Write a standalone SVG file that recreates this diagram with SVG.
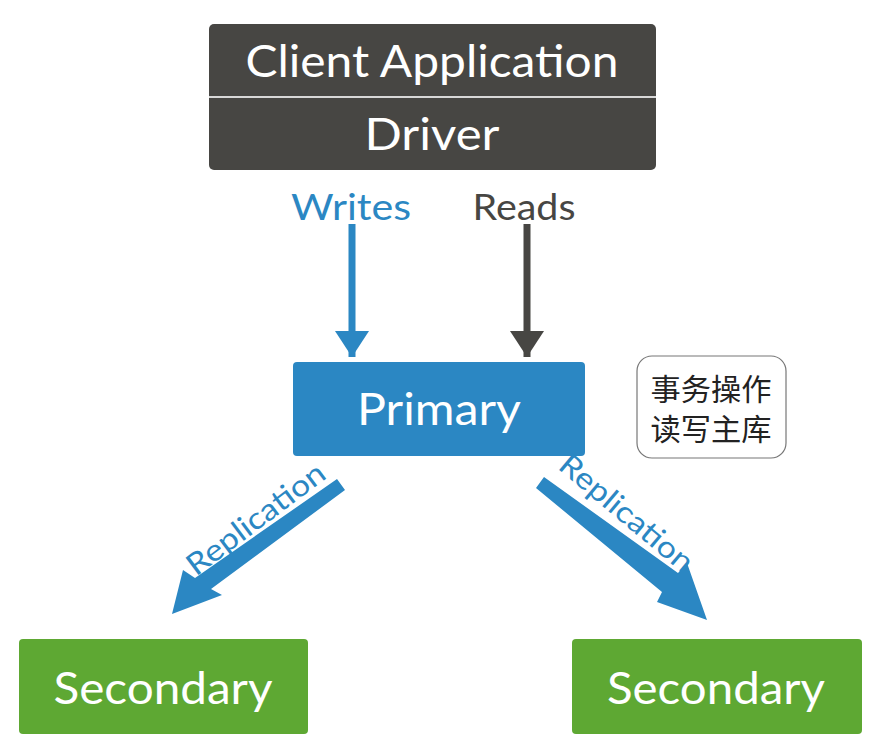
<svg xmlns="http://www.w3.org/2000/svg" width="889" height="750" viewBox="0 0 889 750">
<defs>
<style>
.lbl{font-family:Lato,"Open Sans","Liberation Sans",sans-serif;fill:#ffffff;text-anchor:middle}
.blue{fill:#2b87c3}
.green{fill:#5ea833}
.rep{font-family:Lato,"Open Sans","Liberation Sans",sans-serif;font-size:30px;fill:#2b87c3;text-anchor:middle}
.cjk{font-family:"Noto Sans CJK SC","Noto Sans",sans-serif;font-size:30px;fill:#222;text-anchor:middle}
</style>
<marker id="hb" viewBox="0 0 26 34" refX="26" refY="17" markerWidth="26" markerHeight="34" markerUnits="userSpaceOnUse" orient="auto"><path d="M0,0 L26,17 L0,34 Z" fill="#2b87c3"/></marker>
<marker id="hd" viewBox="0 0 26 34" refX="26" refY="17" markerWidth="26" markerHeight="34" markerUnits="userSpaceOnUse" orient="auto"><path d="M0,0 L26,17 L0,34 Z" fill="#474643"/></marker>
</defs>
<rect width="889" height="750" fill="#ffffff"/>
<g id="client">
<rect x="209" y="24" width="447" height="146" rx="5" fill="#474643"/>
<line x1="209" y1="97" x2="656" y2="97" stroke="#d8d8d8" stroke-width="2"/>
<text class="lbl" x="432" y="77" font-size="44" textLength="373" lengthAdjust="spacingAndGlyphs">Client Application</text>
<text class="lbl" x="432" y="150" font-size="44" textLength="135" lengthAdjust="spacingAndGlyphs">Driver</text>
</g>
<g id="primary">
<rect x="293" y="362" width="292" height="94" rx="4" class="blue"/>
<text class="lbl" x="439" y="425" font-size="44" textLength="164" lengthAdjust="spacingAndGlyphs">Primary</text>
</g>
<g id="note">
<rect x="637" y="356" width="149" height="102" rx="15" fill="#ffffff" stroke="#777" stroke-width="1.2"/>
<text class="cjk" x="711" y="400" textLength="121" lengthAdjust="spacingAndGlyphs">事务操作</text>
<text class="cjk" x="711" y="440" textLength="121" lengthAdjust="spacingAndGlyphs">读写主库</text>
</g>
<g id="secondary1">
<rect x="19" y="639" width="289" height="95" rx="4" class="green"/>
<text class="lbl" x="163" y="704" font-size="44" textLength="219" lengthAdjust="spacingAndGlyphs">Secondary</text>
</g>
<g id="secondary2">
<rect x="572" y="639" width="290" height="95" rx="4" class="green"/>
<text class="lbl" x="716" y="704" font-size="44" textLength="218" lengthAdjust="spacingAndGlyphs">Secondary</text>
</g>
<g id="connectors">
<line x1="352" y1="224" x2="352" y2="357" stroke="#2b87c3" stroke-width="7" marker-end="url(#hb)"/>
<line x1="527" y1="224" x2="527" y2="357" stroke="#474643" stroke-width="7" marker-end="url(#hd)"/>
<path d="M337,479 L345,490 L211,589 L222,595 L172,614 L183,570 L195,578 Z" class="blue"/>
<path d="M544,477 L536,488 L662,592 L657,602 L707,620 L687,563 L678,573 Z" class="blue"/>
<text x="351" y="220" font-family="Lato,'Open Sans','Liberation Sans',sans-serif" font-size="36" fill="#2b87c3" text-anchor="middle" textLength="120" lengthAdjust="spacingAndGlyphs">Writes</text>
<text x="524" y="220" font-family="Lato,'Open Sans','Liberation Sans',sans-serif" font-size="36" fill="#474643" text-anchor="middle" textLength="103" lengthAdjust="spacingAndGlyphs">Reads</text>
<text class="rep" transform="translate(262,527) rotate(-37)" textLength="165" lengthAdjust="spacingAndGlyphs">Replication</text>
<text class="rep" transform="translate(620,521) rotate(40)" textLength="165" lengthAdjust="spacingAndGlyphs">Replication</text>
</g>
</svg>
